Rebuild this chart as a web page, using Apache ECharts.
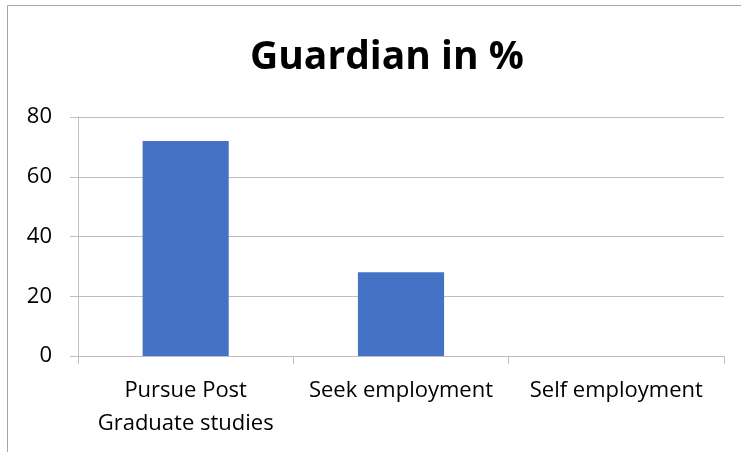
<!DOCTYPE html>
<html><head><meta charset="utf-8">
<script src="https://cdn.jsdelivr.net/npm/echarts@6/dist/echarts.min.js"></script>
<style>html,body{margin:0;padding:0;background:#fff}#c{width:741px;height:452px}</style>
</head><body><div id="c"></div>
<script>
const titleText = "Guardian in %";
const categories = ["Pursue Post\nGraduate studies", "Seek employment", "Self employment"];
const values = [72, 28, 0];
const yTicks = { min: 0, max: 80, interval: 20 };

const chart = echarts.init(document.getElementById('c'), null, { renderer: 'canvas' });
const font = '"Open Sans", Lato, sans-serif';
chart.setOption({
  animation: false,
  backgroundColor: '#ffffff',
  title: {
    text: titleText, left: 245, top: 33,
    textStyle: { fontFamily: font, fontWeight: 'bold', fontSize: 39, color: '#000' }
  },
  graphic: [{
    type: 'rect', shape: { x: 7.5, y: 5.5, width: 900, height: 600 },
    style: { fill: 'none', stroke: '#a6a6a6', lineWidth: 1 }, silent: true
  }],
  grid: { left: 78, right: 17, top: 117, bottom: 96 },
  xAxis: {
    type: 'category', data: categories,
    axisLine: { lineStyle: { color: '#bfbfbf', width: 1 } },
    axisTick: { show: true, length: 8, lineStyle: { color: '#bfbfbf' } },
    axisLabel: { fontFamily: font, fontSize: 22, color: '#000', margin: 18, lineHeight: 33, interval: 0 }
  },
  yAxis: {
    type: 'value', min: yTicks.min, max: yTicks.max, interval: yTicks.interval,
    axisLine: { show: true, lineStyle: { color: '#bfbfbf', width: 1 } },
    axisTick: { show: true, length: 8, lineStyle: { color: '#bfbfbf' } },
    splitLine: { lineStyle: { color: '#bfbfbf', width: 1 } },
    axisLabel: { fontFamily: font, fontSize: 22, color: '#000', margin: 26 }
  },
  series: [{
    type: 'bar', data: values, barWidth: '40%',
    itemStyle: { color: '#4472c4' }
  }]
});
</script></body></html>
